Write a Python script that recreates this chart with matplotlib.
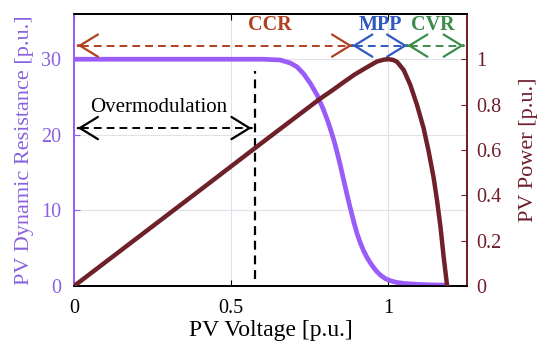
import matplotlib
matplotlib.use("Agg")
import matplotlib.pyplot as plt

plt.rcParams["font.family"] = ["Liberation Serif", "DejaVu Serif"]
plt.rcParams["xtick.direction"] = "in"
plt.rcParams["ytick.direction"] = "in"

# PV power curve [p.u.] vs voltage [p.u.]
v_pow = [0.0, 0.2, 0.4, 0.6, 0.72, 0.78, 0.825, 0.858, 0.89, 0.92, 0.945,
         0.964, 0.985, 1.0, 1.015, 1.028, 1.049, 1.07, 1.091, 1.112, 1.128,
         1.144, 1.155, 1.166, 1.176, 1.187]
p_pow = [0.0, 0.211, 0.422, 0.634, 0.76, 0.823, 0.866, 0.899, 0.93, 0.955, 0.975,
         0.99, 0.998, 1.0, 0.997, 0.988, 0.952, 0.886, 0.799, 0.697, 0.595,
         0.478, 0.376, 0.259, 0.128, 0.0]

# PV dynamic resistance [p.u.] vs voltage
v_res = [0.0, 0.6, 0.656, 0.688, 0.709, 0.73, 0.752, 0.773, 0.794, 0.81, 0.826,
         0.837, 0.847, 0.858, 0.868, 0.879, 0.89, 0.9, 0.911, 0.921, 0.932,
         0.943, 0.955, 0.964, 0.975, 0.99, 1.006, 1.025, 1.049, 1.09, 1.13, 1.18]
r_res = [30.0, 30.0, 29.9, 29.5, 29.0, 28.1, 26.8, 25.3, 23.3, 21.5, 19.4,
         17.7, 16.0, 14.0, 12.2, 10.3, 8.5, 7.0, 5.7, 4.7, 3.8,
         3.05, 2.35, 1.9, 1.45, 1.0, 0.72, 0.5, 0.36, 0.24, 0.17, 0.13]

# operating regions: label, start, end, label position, colour
regions = [("CCR", 0.012, 0.885, 0.624, "#b0401f"),
           ("MPP", 0.885, 1.06, 0.975, "#3058c0"),
           ("CVR", 1.06, 1.24, 1.143, "#3d8c4c")]
region_y = 31.8
label_y = 34.5
overmod_v = 0.577
overmod_y = 20.9

purple = "#9a5cf8"
purple_txt = "#8a60e0"
brown = "#6e2128"
brown_txt = "#6e1c2a"

fig, ax = plt.subplots(figsize=(5.5, 3.55), dpi=100)
fig.subplots_adjust(left=0.1345, right=0.849, bottom=0.194, top=0.961)
ax2 = ax.twinx()

ax.set_xlim(0, 1.25)
ax.set_ylim(0, 36)
ax2.set_ylim(0, 1.2)

ax.grid(True, color="#e2e0ea", linewidth=0.8)
ax.set_axisbelow(True)

ax.plot(v_res, r_res, color=purple, linewidth=3.4, solid_capstyle="butt",
        solid_joinstyle="round", zorder=3)
ax2.plot(v_pow, p_pow, color=brown, linewidth=3.2, solid_joinstyle="round", zorder=3)


def arrow(ax, x0, x1, y, color):
    ax.plot([x0 + 0.01, x1 - 0.01], [y, y], color=color, linestyle=(0, (4, 2.6)),
            linewidth=1.4, zorder=4)
    for a, b in ((x0, x0 + 0.001), (x1, x1 - 0.001)):
        ax.annotate("", xy=(a, y), xytext=(b, y),
                    arrowprops=dict(arrowstyle="->,head_length=1.3,head_width=0.8",
                                    color=color, lw=1.6, shrinkA=0, shrinkB=0),
                    zorder=5)


for name, a, b, lx, c in regions:
    arrow(ax, a, b, region_y, c)
    ax.text(lx, label_y, name, color=c, fontsize=14.5, fontweight="bold",
            ha="center", va="center")

arrow(ax, 0.012, overmod_v - 0.012, overmod_y, "black")
ax.text(0.27, 23.0, "Overmodulation", fontsize=15, ha="center", va="baseline")
ax.plot([overmod_v, overmod_v], [1.0, 28.5], color="black", linestyle=(0, (4, 2.6)),
        linewidth=1.6, zorder=4)

ax.set_xticks([0, 0.5, 1])
ax.set_xticklabels(["0", "0.5", "1"])
ax.set_yticks([0, 10, 20, 30])
ax2.set_yticks([0, 0.2, 0.4, 0.6, 0.8, 1])
ax2.set_yticklabels(["0", "0.2", "0.4", "0.6", "0.8", "1"])

ax.tick_params(axis="x", top=True, labelsize=14.5, colors="black", length=4, pad=9)
ax.tick_params(axis="y", labelsize=14.5, colors=purple_txt, length=4, pad=9)
ax2.tick_params(axis="y", labelsize=14.5, colors=brown_txt, length=4, pad=7)

ax.set_xlabel("PV Voltage [p.u.]", fontsize=17, labelpad=2)
ax.set_ylabel("PV Dynamic Resistance [p.u.]", fontsize=16, color=purple_txt, labelpad=5)
ax2.set_ylabel("PV Power [p.u.]", fontsize=16, color=brown_txt, labelpad=12)

for a in (ax, ax2):
    a.spines["top"].set_color("black")
    a.spines["bottom"].set_color("black")
    a.spines["left"].set_color(purple)
    a.spines["right"].set_color(brown)
    for s in a.spines.values():
        s.set_linewidth(1.3)

fig.savefig("out.png", dpi=100)
